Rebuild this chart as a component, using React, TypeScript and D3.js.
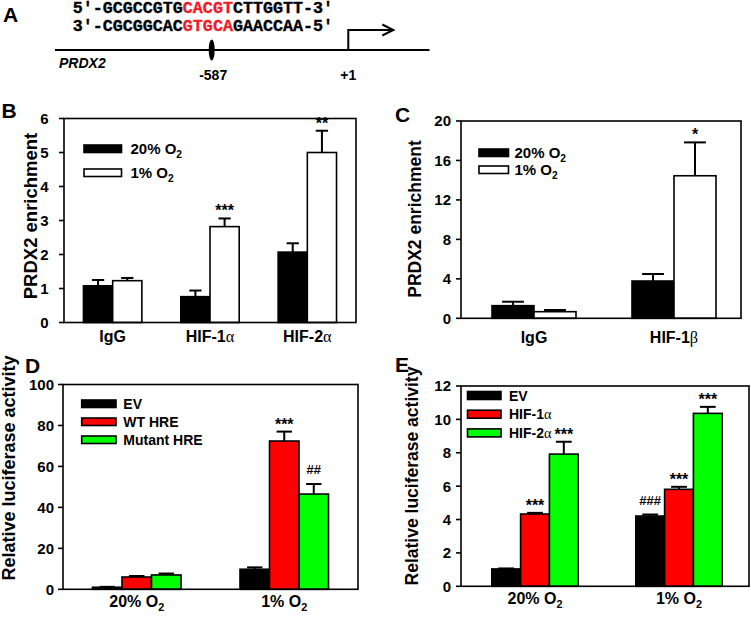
import React from "react";
import * as d3 from "d3";

const FONT = "'Liberation Sans', Arial, Helvetica, sans-serif";
const GREEK_FONT = "'Liberation Serif', 'DejaVu Serif', serif";
const MONO = "'Liberation Mono', 'Courier New', monospace";

// ---------- Panel A ----------
const SEQ_TOP = ["5′-GCGCCGTG", "CACGT", "CTTGGTT-3′"];
const SEQ_BOTTOM = ["3′-CGCGGCAC", "GTGCA", "GAACCAA-5′"];
const GENE_NAME = "PRDX2";
const SITE_POSITIONS = [-587, 1];
const SITE_LABELS = ["-587", "+1"];

// ---------- Panel B ----------
const B_CATEGORIES = ["IgG", "HIF-1α", "HIF-2α"];
const B_SERIES = ["20% O2", "1% O2"];
const B_VALUES_20 = [1.08, 0.76, 2.07];
const B_ERRORS_20 = [0.17, 0.18, 0.26];
const B_VALUES_1 = [1.23, 2.82, 5.0];
const B_ERRORS_1 = [0.08, 0.24, 0.64];
const B_SIG_20 = ["", "", ""];
const B_SIG_1 = ["", "***", "**"];
const B_TICKS = [0, 1, 2, 3, 4, 5, 6];

// ---------- Panel C ----------
const C_CATEGORIES = ["IgG", "HIF-1β"];
const C_SERIES = ["20% O2", "1% O2"];
const C_VALUES_20 = [1.28, 3.78];
const C_ERRORS_20 = [0.4, 0.71];
const C_VALUES_1 = [0.67, 14.45];
const C_ERRORS_1 = [0.17, 3.38];
const C_SIG_20 = ["", ""];
const C_SIG_1 = ["", "*"];
const C_TICKS = [0, 4, 8, 12, 16, 20];

// ---------- Panel D ----------
const D_CATEGORIES = ["20% O2", "1% O2"];
const D_SERIES = ["EV", "WT HRE", "Mutant HRE"];
const D_VALUES_EV = [1.0, 9.8];
const D_ERRORS_EV = [0.2, 0.9];
const D_VALUES_WT = [6.0, 72.4];
const D_ERRORS_WT = [0.5, 4.6];
const D_VALUES_MUT = [7.0, 46.5];
const D_ERRORS_MUT = [0.7, 4.9];
const D_SIG_EV = ["", ""];
const D_SIG_WT = ["", "***"];
const D_SIG_MUT = ["", "##"];
const D_TICKS = [0, 20, 40, 60, 80, 100];

// ---------- Panel E ----------
const E_CATEGORIES = ["20% O2", "1% O2"];
const E_SERIES = ["EV", "HIF-1α", "HIF-2α"];
const E_VALUES_EV = [1.04, 4.21];
const E_ERRORS_EV = [0.03, 0.09];
const E_VALUES_H1 = [4.33, 5.81];
const E_ERRORS_H1 = [0.07, 0.15];
const E_VALUES_H2 = [7.92, 10.36];
const E_ERRORS_H2 = [0.74, 0.39];
const E_SIG_EV = ["", "###"];
const E_SIG_H1 = ["***", "***"];
const E_SIG_H2 = ["***", "***"];
const E_TICKS = [0, 2, 4, 6, 8, 10, 12];

const BLACK = "#000000";
const WHITE = "#ffffff";
const RED = "#ff0000";
const GREEN = "#00ff00";
const SEQ_RED = "#ee1c24";

type Series = { name: string; values: number[]; errors: number[]; sig: string[]; fill: string };

function Rich({ text, size }: { text: string; size: number }) {
  // Greek letters in a serif face, trailing "O2" rendered with subscript 2
  const parts: React.ReactNode[] = [];
  let body = text;
  let sub = false;
  if (/O2$/.test(body)) {
    body = body.slice(0, -1);
    sub = true;
  }
  let buf = "";
  let k = 0;
  for (const ch of body) {
    if (/[\u03b1-\u03c9]/.test(ch)) {
      if (buf) parts.push(<tspan key={k++}>{buf}</tspan>);
      buf = "";
      parts.push(
        <tspan key={k++} fontFamily={GREEK_FONT} fontWeight="normal" fontSize={size * 1.02}>
          {ch}
        </tspan>
      );
    } else buf += ch;
  }
  if (buf) parts.push(<tspan key={k++}>{buf}</tspan>);
  if (sub)
    parts.push(
      <tspan key={k++} fontSize={size * 0.68} dy={size * 0.28}>
        2
      </tspan>
    );
  return <>{parts}</>;
}

type PanelProps = {
  letter: string;
  letterX: number;
  letterY: number;
  left: number;
  right: number;
  top: number;
  bottom: number;
  shift: number;
  yMax: number;
  ticks: number[];
  categories: string[];
  series: Series[];
  capFrac: number;
  yLabel: string;
  yLabelX: number;
  yLabelY: number;
  yLabelSize: number;
  tickSize: number;
  tickGap: number;
  catSize: number;
  catY: number;
  legend: { x: number; y: number; w: number; h: number; pitch: number; size: number; gap: number };
};

function BarPanel(p: PanelProps) {
  const y = d3.scaleLinear().domain([0, p.yMax]).range([p.bottom, p.top]);
  const x = d3
    .scaleBand<string>()
    .domain(p.categories)
    .range([p.left + p.shift, p.right + p.shift])
    .paddingInner(0.4)
    .paddingOuter(0.2);
  const inner = d3
    .scaleBand<string>()
    .domain(p.series.map((s) => s.name))
    .range([0, x.bandwidth()]);
  const bw = inner.bandwidth();
  const cap = bw * p.capFrac;

  return (
    <g fontFamily={FONT} fontWeight="bold">
      <text x={p.letterX} y={p.letterY} fontSize={21}>
        {p.letter}
      </text>
      {/* bars */}
      {p.series.map((s) =>
        p.categories.map((c, i) => {
          const bx = (x(c) as number) + (inner(s.name) as number);
          const v = s.values[i];
          const top = y(v + s.errors[i]);
          const cx = bx + bw / 2;
          const sig = s.sig[i];
          const isHash = sig.startsWith("#");
          return (
            <g key={s.name + c}>
              <line x1={cx} x2={cx} y1={y(v)} y2={top} stroke={BLACK} strokeWidth={2} />
              <line x1={cx - cap / 2} x2={cx + cap / 2} y1={top} y2={top} stroke={BLACK} strokeWidth={2} />
              <rect
                x={bx}
                y={y(v)}
                width={bw}
                height={p.bottom - y(v)}
                fill={s.fill}
                stroke={BLACK}
                strokeWidth={1.6}
              />
              {sig && (
                <text
                  x={cx}
                  y={top - (isHash ? 10 : 2)}
                  textAnchor="middle"
                  fontSize={isHash ? 13 : 16}
                  fontWeight="bold"
                >
                  {sig}
                </text>
              )}
            </g>
          );
        })
      )}
      {/* frame */}
      <rect
        x={p.left}
        y={p.top}
        width={p.right - p.left}
        height={p.bottom - p.top}
        fill="none"
        stroke={BLACK}
        strokeWidth={1.6}
      />
      {/* y ticks */}
      {p.ticks.map((t) => (
        <g key={t}>
          <line x1={p.left - 5} x2={p.left} y1={y(t)} y2={y(t)} stroke={BLACK} strokeWidth={1.6} />
          <text x={p.left - p.tickGap} y={y(t)} dy="0.36em" textAnchor="end" fontSize={p.tickSize}>
            {t}
          </text>
        </g>
      ))}
      {/* category labels */}
      {p.categories.map((c) => (
        <text
          key={c}
          x={(x(c) as number) + x.bandwidth() / 2}
          y={p.catY}
          textAnchor="middle"
          fontSize={p.catSize}
        >
          <Rich text={c} size={p.catSize} />
        </text>
      ))}
      {/* y label */}
      <text
        transform={`translate(${p.yLabelX},${p.yLabelY}) rotate(-90)`}
        textAnchor="middle"
        fontSize={p.yLabelSize}
      >
        {p.yLabel}
      </text>
      {/* legend */}
      {p.series.map((s, i) => {
        const ly = p.legend.y + i * p.legend.pitch;
        return (
          <g key={s.name}>
            <rect
              x={p.legend.x}
              y={ly}
              width={p.legend.w}
              height={p.legend.h}
              fill={s.fill}
              stroke={BLACK}
              strokeWidth={1.6}
            />
            <text x={p.legend.x + p.legend.w + p.legend.gap} y={ly + p.legend.h + 1} fontSize={p.legend.size}>
              <Rich text={s.name} size={p.legend.size} />
            </text>
          </g>
        );
      })}
    </g>
  );
}

function PanelA() {
  const lineY = 50;
  // schematic promoter coordinates: HRE site and transcription start
  const gx = d3.scaleLinear().domain(SITE_POSITIONS).range([211.7, 348.3]);
  const siteX = gx(SITE_POSITIONS[0]);
  const tssX = gx(SITE_POSITIONS[1]);
  const seqStyle = { fontFamily: MONO, fontSize: 16.7 };
  return (
    <g fontFamily={FONT} fontWeight="bold">
      <text x={3} y={21.5} fontSize={21}>
        A
      </text>
      <text x={72.7} y={12.5} {...seqStyle} stroke={BLACK} strokeWidth={0.35}>
        <tspan>{SEQ_TOP[0]}</tspan>
        <tspan fill={SEQ_RED} stroke={SEQ_RED}>{SEQ_TOP[1]}</tspan>
        <tspan>{SEQ_TOP[2]}</tspan>
      </text>
      <text x={72.7} y={30.5} {...seqStyle} stroke={BLACK} strokeWidth={0.35}>
        <tspan>{SEQ_BOTTOM[0]}</tspan>
        <tspan fill={SEQ_RED} stroke={SEQ_RED}>{SEQ_BOTTOM[1]}</tspan>
        <tspan>{SEQ_BOTTOM[2]}</tspan>
      </text>
      <line x1={55} x2={429.5} y1={lineY} y2={lineY} stroke={BLACK} strokeWidth={2} />
      <ellipse cx={siteX} cy={lineY} rx={3} ry={10.5} fill={BLACK} />
      <path d={`M${tssX},${lineY} V30 H${tssX + 45}`} fill="none" stroke={BLACK} strokeWidth={2} />
      <path
        d={`M${tssX + 34},24.5 L${tssX + 45},30 L${tssX + 34},35.5`}
        fill="none"
        stroke={BLACK}
        strokeWidth={2}
      />
      <text x={59} y={68} fontSize={14} fontStyle="italic">
        {GENE_NAME}
      </text>
      <text x={siteX + 1.5} y={80} fontSize={14} textAnchor="middle">
        {SITE_LABELS[0]}
      </text>
      <text x={tssX} y={80} fontSize={14} textAnchor="middle">
        {SITE_LABELS[1]}
      </text>
    </g>
  );
}

export default function App() {
  const bSeries: Series[] = [
    { name: B_SERIES[0], values: B_VALUES_20, errors: B_ERRORS_20, sig: B_SIG_20, fill: BLACK },
    { name: B_SERIES[1], values: B_VALUES_1, errors: B_ERRORS_1, sig: B_SIG_1, fill: WHITE },
  ];
  const cSeries: Series[] = [
    { name: C_SERIES[0], values: C_VALUES_20, errors: C_ERRORS_20, sig: C_SIG_20, fill: BLACK },
    { name: C_SERIES[1], values: C_VALUES_1, errors: C_ERRORS_1, sig: C_SIG_1, fill: WHITE },
  ];
  const dSeries: Series[] = [
    { name: D_SERIES[0], values: D_VALUES_EV, errors: D_ERRORS_EV, sig: D_SIG_EV, fill: BLACK },
    { name: D_SERIES[1], values: D_VALUES_WT, errors: D_ERRORS_WT, sig: D_SIG_WT, fill: RED },
    { name: D_SERIES[2], values: D_VALUES_MUT, errors: D_ERRORS_MUT, sig: D_SIG_MUT, fill: GREEN },
  ];
  const eSeries: Series[] = [
    { name: E_SERIES[0], values: E_VALUES_EV, errors: E_ERRORS_EV, sig: E_SIG_EV, fill: BLACK },
    { name: E_SERIES[1], values: E_VALUES_H1, errors: E_ERRORS_H1, sig: E_SIG_H1, fill: RED },
    { name: E_SERIES[2], values: E_VALUES_H2, errors: E_ERRORS_H2, sig: E_SIG_H2, fill: GREEN },
  ];

  return (
    <svg
      width={751}
      height={620}
      style={{ position: "absolute", left: 0, top: 0, background: "#fff" }}
    >
      <rect width={751} height={620} fill="#fff" />
      <PanelA />
      <BarPanel
        letter="B"
        letterX={1.5}
        letterY={118}
        left={64}
        right={356}
        top={118.5}
        bottom={322.5}
        shift={0}
        yMax={6}
        ticks={B_TICKS}
        categories={B_CATEGORIES}
        series={bSeries}
        capFrac={0.42}
        yLabel="PRDX2 enrichment"
        yLabelX={37}
        yLabelY={216}
        yLabelSize={18.5}
        tickSize={15}
        tickGap={15.5}
        catSize={16}
        catY={341.5}
        legend={{ x: 84, y: 145, w: 37.5, h: 7.5, pitch: 24, size: 15, gap: 9 }}
      />
      <BarPanel
        letter="C"
        letterX={395}
        letterY={122}
        left={461}
        right={741}
        top={121}
        bottom={318.3}
        shift={3}
        yMax={20}
        ticks={C_TICKS}
        categories={C_CATEGORIES}
        series={cSeries}
        capFrac={0.52}
        yLabel="PRDX2 enrichment"
        yLabelX={421}
        yLabelY={219}
        yLabelSize={17.5}
        tickSize={15}
        tickGap={10}
        catSize={16}
        catY={343}
        legend={{ x: 479, y: 149, w: 29.5, h: 7.5, pitch: 17, size: 15, gap: 6 }}
      />
      <BarPanel
        letter="D"
        letterX={25}
        letterY={373}
        left={63}
        right={358}
        top={384.5}
        bottom={589.3}
        shift={0}
        yMax={100}
        ticks={D_TICKS}
        categories={D_CATEGORIES}
        series={dSeries}
        capFrac={0.52}
        yLabel="Relative luciferase activity"
        yLabelX={15}
        yLabelY={468}
        yLabelSize={18}
        tickSize={15}
        tickGap={9}
        catSize={16}
        catY={607}
        legend={{ x: 81.7, y: 400, w: 34.3, h: 7.5, pitch: 18, size: 14, gap: 7.3 }}
      />
      <BarPanel
        letter="E"
        letterX={395}
        letterY={372}
        left={461}
        right={749}
        top={386}
        bottom={586.3}
        shift={2}
        yMax={12}
        ticks={E_TICKS}
        categories={E_CATEGORIES}
        series={eSeries}
        capFrac={0.55}
        yLabel="Relative luciferase activity"
        yLabelX={418}
        yLabelY={476}
        yLabelSize={17.5}
        tickSize={15}
        tickGap={10}
        catSize={16}
        catY={604}
        legend={{ x: 467.5, y: 391.5, w: 33.5, h: 8, pitch: 18.7, size: 14, gap: 8 }}
      />
    </svg>
  );
}
